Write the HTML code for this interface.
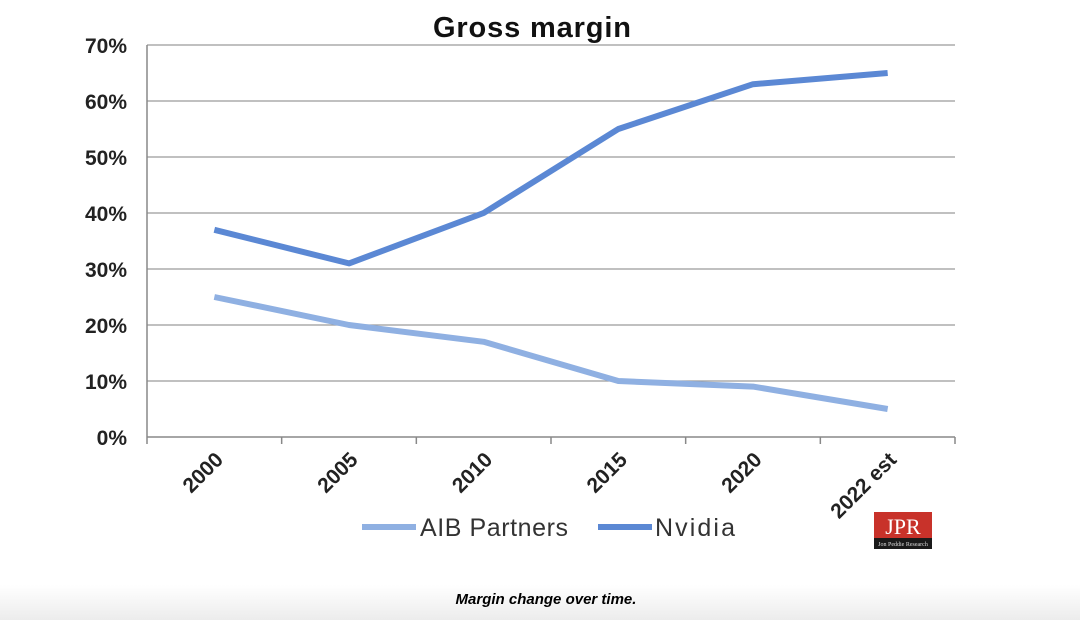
<!DOCTYPE html>
<html><head><meta charset="utf-8"><style>
body{margin:0;width:1080px;height:620px;background:#fff;overflow:hidden;font-family:"Liberation Sans",sans-serif}
</style></head><body>
<svg width="1080" height="620">
<defs><linearGradient id="bg" x1="0" y1="0" x2="0" y2="1"><stop offset="0" stop-color="#fff"/><stop offset="1" stop-color="#ececec"/></linearGradient></defs>
<rect x="0" y="585" width="1080" height="35" fill="url(#bg)"/>
<text x="532" y="37" text-anchor="middle" font-size="29" font-weight="bold" fill="#111" textLength="198">Gross margin</text>
<g id="grid"></g><g id="ylab"></g><g id="xlab"></g><g id="lines"></g>
<g>
<line x1="362" y1="527" x2="416" y2="527" stroke="#8fb0e2" stroke-width="6"/>
<text x="420" y="536" font-size="25" fill="#333" textLength="148">AIB Partners</text>
<line x1="598" y1="527" x2="652" y2="527" stroke="#5b88d4" stroke-width="6"/>
<text x="655" y="536" font-size="25" fill="#333" textLength="80">Nvidia</text>
</g>
<g>
<rect x="874" y="512" width="58" height="26" fill="#c8322a"/>
<rect x="874" y="538" width="58" height="11" fill="#1a1a1a"/>
<text x="903" y="534" text-anchor="middle" font-family="Liberation Serif,serif" font-size="22" fill="#fff">JPR</text>
<text x="903" y="546" text-anchor="middle" font-family="Liberation Serif,serif" font-size="6" fill="#ddd">Jon Peddie Research</text>
</g>
<text x="546" y="604" text-anchor="middle" font-size="15" font-weight="bold" font-style="italic" fill="#000">Margin change over time.</text>
</svg>
<script>
const categories=["2000","2005","2010","2015","2020","2022 est"];
const nvidia=[37,31,40,55,63,65];
const aib=[25,20,17,10,9,5];
const yTicks=[0,10,20,30,40,50,60,70];
const X0=147,X1=955,Y0=437,Y1=45;
const step=(X1-X0)/categories.length;
const xs=i=>X0+step*(i+0.5);
const ys=v=>Y0-(v/70)*(Y0-Y1);
const NS="http://www.w3.org/2000/svg";
function mk(t,a,p){const e=document.createElementNS(NS,t);for(const k in a)e.setAttribute(k,a[k]);p.appendChild(e);return e;}
const grid=document.getElementById('grid'),yl=document.getElementById('ylab'),xl=document.getElementById('xlab'),ln=document.getElementById('lines');
yTicks.forEach(v=>{
 const l=mk('line',{x1:X0,x2:X1,y1:ys(v),y2:ys(v),stroke:v===0?'#888':'#9a9a9a','stroke-width':v===0?1.5:1.2},grid);
 
 
 const t=mk('text',{x:127,y:ys(v)+8,'text-anchor':'end','font-size':21,'font-weight':'bold',fill:'#222'},yl);
 t.textContent=v+'%';
 
 
});
const ax=mk('line',{x1:X0,x2:X0,y1:Y1,y2:Y0,stroke:'#888','stroke-width':1.5},grid);


for(let i=0;i<=categories.length;i++){const tk=mk('line',{x1:X0+step*i,x2:X0+step*i,y1:Y0,y2:Y0+7,stroke:'#888','stroke-width':1.5},grid);
 
 }
categories.forEach((c,i)=>{
 const x=xs(i)+10,y=Y0+24;
 const t=mk('text',{x:x,y:y,'text-anchor':'end','font-size':21,'font-weight':'bold',fill:'#222',transform:`rotate(-45 ${x} ${y})`},xl);
 t.textContent=c;
 
 
});
function series(d,col,name){
 const p=mk('polyline',{points:d.map((v,i)=>xs(i)+','+ys(v)).join(' '),fill:'none',stroke:col,'stroke-width':6,'stroke-linejoin':'round'},ln);
 
 
}
series(aib,'#8fb0e2','aib-partners-line');
series(nvidia,'#5b88d4','nvidia-line');
</script>
</body></html>
